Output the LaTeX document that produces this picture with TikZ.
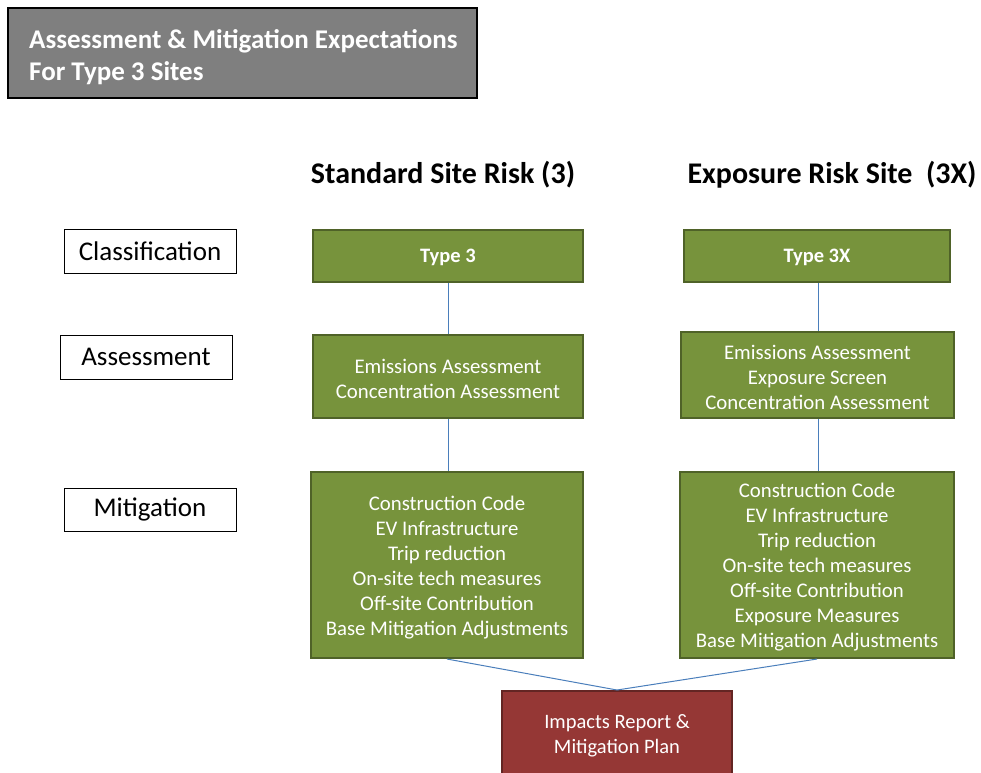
\documentclass[tikz,border=0pt]{standalone}
\usepackage{fontspec}
\setmainfont{Carlito}
\definecolor{grnfill}{HTML}{77933C}
\definecolor{grnline}{HTML}{4F6228}
\definecolor{redfill}{HTML}{953735}
\definecolor{redline}{HTML}{632523}
\definecolor{ttlfill}{HTML}{7F7F7F}
\definecolor{conn}{HTML}{4A7EBB}
\tikzset{
  greenbox/.style={draw=grnline, fill=grnfill, line width=2pt, inner sep=0pt},
  redbox/.style={draw=redline, fill=redfill, line width=2pt, inner sep=0pt},
  boxtext/.style={text=white, align=center, inner sep=0pt, font=\fontsize{20.8}{25}\selectfont},
  typetext/.style={text=white, align=center, inner sep=0pt, font=\bfseries\fontsize{20.5}{24}\selectfont},
  labelbox/.style={draw=black, line width=1pt, fill=white, inner sep=0pt, font=\fontsize{27}{30}\selectfont},
  heading/.style={font=\bfseries\fontsize{30}{34}\selectfont, inner sep=0pt},
  connector/.style={draw=conn, line width=1pt},
}
\begin{document}
\begin{tikzpicture}[x=1pt,y=-1pt]
\useasboundingbox (0,0) rectangle (981,772);
% title
\node[draw=black, fill=ttlfill, line width=2.5pt, minimum width=469pt, minimum height=90pt, inner sep=0pt] (title) at (242.5,53) {};
\node[anchor=west, align=left, text=white, inner sep=0pt, font=\bfseries\fontsize{27}{32}\selectfont] (titletext) at (29,57) {Assessment \& Mitigation Expectations\\For Type 3 Sites};
% headings
\node[heading] (h1) at (443,174.5) {Standard Site Risk (3)};
\node[heading] (h2) at (832,174.5) {Exposure Risk Site\ \ (3X)};
% row labels
\node[labelbox, minimum width=172pt, minimum height=44pt] (lclass) at (150,251) {Classification};
\node[labelbox, minimum width=172pt, minimum height=44pt] (lassess) at (146,357) {Assessment};
\node[labelbox, minimum width=172pt, minimum height=43pt] (lmitig) at (150,509.5) {Mitigation};
% left column
\node[greenbox, minimum width=270pt, minimum height=52pt] (t3) at (448,256) {};
\node[typetext] (t3t) at (448,257.5) {Type 3};
\node[greenbox, minimum width=270pt, minimum height=83pt] (a3) at (448,376.5) {};
\node[boxtext] (a3t) at (448,379) {Emissions Assessment\\Concentration Assessment};
\node[greenbox, minimum width=272pt, minimum height=186pt] (m3) at (447,565) {};
\node[boxtext] (m3t) at (447,567.5) {Construction Code\\EV Infrastructure\\Trip reduction\\On-site tech measures\\Off-site Contribution\\Base Mitigation Adjustments};
% right column
\node[greenbox, minimum width=266pt, minimum height=52pt] (t3x) at (817,256) {};
\node[typetext] (t3xt) at (817,257.5) {Type 3X};
\node[greenbox, minimum width=273pt, minimum height=86pt] (a3x) at (817.5,375) {};
\node[boxtext] (a3xt) at (817.5,377.5) {Emissions Assessment\\Exposure Screen\\Concentration Assessment};
\node[greenbox, minimum width=274pt, minimum height=186pt] (m3x) at (817,565) {};
\node[boxtext] (m3xt) at (817,567.5) {Construction Code\\EV Infrastructure\\Trip reduction\\On-site tech measures\\Off-site Contribution\\Exposure Measures\\Base Mitigation Adjustments};
% bottom
\node[redbox, minimum width=230pt, minimum height=86pt] (rep) at (617,734) {};
\node[boxtext, font=\fontsize{20.5}{25}\selectfont] (rept) at (617,736) {Impacts Report \&\\Mitigation Plan};
% connectors
\draw[connector] (t3.south -| 448,0) -- (a3.north -| 448,0);
\draw[connector] (a3.south -| 448,0) -- (m3.north -| 448,0);
\draw[connector] (t3x.south -| 818,0) -- (a3x.north -| 818,0);
\draw[connector] (a3x.south -| 818,0) -- (m3x.north -| 818,0);
\draw[connector] (m3.south) -- (rep.north);
\draw[connector] (m3x.south) -- (rep.north);
\end{tikzpicture}
\end{document}
